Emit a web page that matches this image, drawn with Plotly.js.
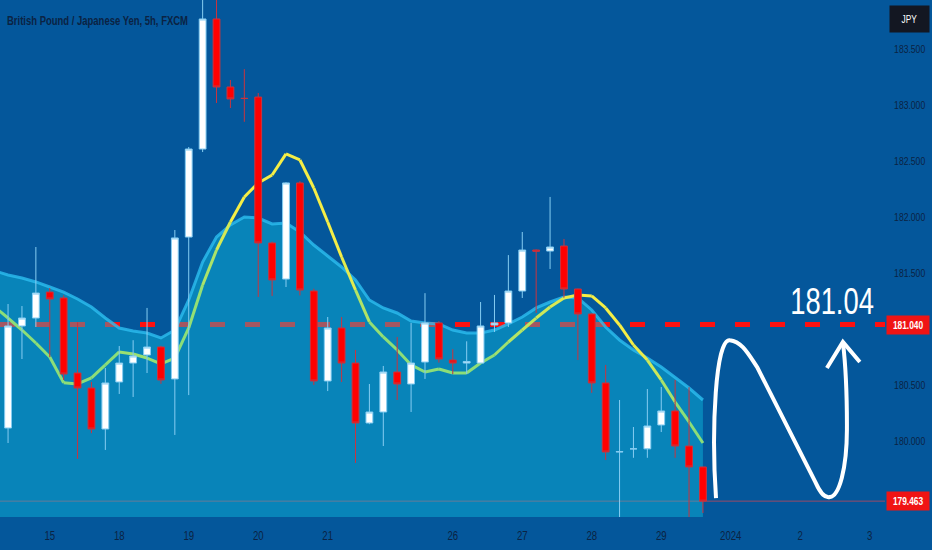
<!DOCTYPE html>
<html>
<head>
<meta charset="utf-8">
<script src="https://cdn.plot.ly/plotly-3.0.1.min.js"></script>
<style>
  html, body {margin: 0; padding: 0; background: #04579b;}
  #chart {width: 932px; height: 550px;}
</style>
</head>
<body>
<div id="chart"></div>
<script>
// 5h candles, GBP/JPY (FXCM)
const opens  = [180.116, 181.027, 181.098, 181.330, 181.277, 180.607, 180.473, 180.107, 180.527, 180.696,
                180.768, 180.839, 180.554, 181.821, 182.607, 183.768, 183.161, 183.060, 183.071, 181.768,
                181.446, 182.304, 181.339, 180.536, 181.009, 180.696, 180.161, 180.259, 180.616, 180.509,
                180.705, 181.054, 180.723, 180.696, 180.696, 181.036, 181.054, 181.339, 181.705, 181.696,
                181.741, 181.357, 181.134, 180.518, 179.902, 179.930, 179.930, 180.143, 180.268, 179.955,
                179.768];
const highs  = [181.223, 181.205, 181.732, 181.366, 181.300, 181.060, 180.527, 180.652, 180.848, 180.900,
                181.188, 180.850, 181.884, 182.625, 183.950, 183.950, 183.223, 183.320, 183.107, 181.780,
                182.310, 182.320, 181.360, 181.107, 181.107, 180.813, 180.509, 180.670, 180.929, 181.054,
                181.320, 181.070, 180.820, 180.890, 181.241, 181.304, 181.660, 181.866, 181.710, 182.179,
                181.804, 181.360, 181.140, 180.679, 180.366, 180.125, 180.464, 180.482, 180.545, 180.480,
                179.770];
const lows   = [179.982, 180.732, 181.018, 180.750, 180.545, 179.840, 180.070, 179.920, 180.420, 180.393,
                180.607, 180.510, 180.054, 180.410, 182.580, 183.018, 182.973, 182.850, 181.286, 181.295,
                181.375, 181.300, 180.500, 180.446, 180.527, 179.804, 180.150, 179.955, 180.366, 180.259,
                180.554, 180.700, 180.598, 180.598, 180.690, 180.973, 181.018, 181.277, 181.143, 181.536,
                181.280, 180.723, 180.430, 179.830, 179.300, 179.850, 179.850, 180.080, 179.850, 179.320,
                179.357];
const closes = [181.027, 181.098, 181.321, 181.268, 180.598, 180.473, 180.107, 180.518, 180.696, 180.759,
                180.839, 180.545, 181.813, 182.607, 183.768, 183.161, 183.054, 183.058, 181.768, 181.438,
                182.304, 181.348, 180.536, 181.009, 180.696, 180.161, 180.259, 180.616, 180.509, 180.696,
                181.054, 180.732, 180.696, 180.710, 181.027, 181.054, 181.339, 181.705, 181.695, 181.732,
                181.357, 181.134, 180.518, 179.902, 179.905, 179.930, 180.134, 180.268, 179.955, 179.768,
                179.463];

// indicators start one bar before the first visible candle
const bandTop = [181.520, 181.482, 181.455, 181.420, 181.375, 181.330, 181.268, 181.196, 181.098, 181.009,
                 180.982, 180.964, 180.920, 180.991, 181.259, 181.598, 181.821, 181.929, 182.000, 181.991,
                 181.938, 181.946, 181.866, 181.750, 181.652, 181.554, 181.438, 181.259, 181.188, 181.143,
                 181.071, 181.054, 181.045, 180.991, 180.964, 180.964, 180.991, 181.045, 181.107, 181.188,
                 181.241, 181.286, 181.277, 181.170, 181.018, 180.902, 180.813, 180.741, 180.661, 180.571,
                 180.473, 180.366];
const maLine  = [181.200, 181.098, 180.991, 180.875, 180.750, 180.520, 180.510, 180.563, 180.679, 180.795,
                 180.777, 180.741, 180.688, 180.741, 181.009, 181.393, 181.705, 181.955, 182.179, 182.304,
                 182.375, 182.563, 182.509, 182.259, 181.955, 181.643, 181.348, 181.063, 180.929, 180.813,
                 180.679, 180.616, 180.643, 180.607, 180.607, 180.696, 180.768, 180.884, 180.991, 181.098,
                 181.196, 181.277, 181.304, 181.295, 181.188, 181.036, 180.857, 180.723, 180.545, 180.348,
                 180.170, 179.982];

const dayTicks  = [3, 8, 13, 18, 23, 32, 37, 42, 47, 52, 57, 62];
const dayLabels = ["15", "18", "19", "20", "21", "26", "27", "28", "29", "2024", "2", "3"];
const priceTicks = [180.0, 180.5, 181.5, 182.0, 182.5, 183.0, 183.5];

const targetLevel = 181.04;
const lastPrice = 179.463;

const FONT = "'Liberation Sans', Arial, sans-serif";
const INK = "#0b2343";
const BG = "#04579b";
const X_RANGE = [-0.58, 63.1];
const Y_RANGE = [179.3214, 183.9375];

const barX = closes.map((_, i) => i);
const indX = bandTop.map((_, k) => k - 1);

const traces = [];

// shaded band (semi transparent, sits over the dashed level line)
traces.push({
    x: indX,
    y: bandTop,
    type: "scatter",
    mode: "lines",
    fill: "tozeroy",
    fillcolor: "rgba(15,205,235,0.38)",
    line: {color: "rgba(45,190,240,0.8)", width: 3},
    hoverinfo: "skip",
    showlegend: false
});

// moving average, yellow above the band, green below it
function mixColor(t) {
    const g = [140, 222, 120], yl = [245, 238, 70];
    const c = g.map((v, k) => Math.round(v + (yl[k] - v) * t));
    return `rgb(${c[0]},${c[1]},${c[2]})`;
}
for (let k = 0; k < maLine.length - 1; k++) {
    const diff = (maLine[k] + maLine[k + 1]) / 2 - (bandTop[k] + bandTop[k + 1]) / 2;
    const t = Math.max(0, Math.min(1, (diff + 0.25) / 0.3));
    traces.push({
        x: [indX[k], indX[k + 1]],
        y: [maLine[k], maLine[k + 1]],
        type: "scatter",
        mode: "lines",
        line: {color: mixColor(t), width: 3},
        hoverinfo: "skip",
        showlegend: false
    });
}

// candles on an overlaid pair of axes so they sit above the band and the MA
traces.push({
    x: barX,
    open: opens,
    high: highs,
    low: lows,
    close: closes,
    type: "candlestick",
    xaxis: "x2",
    yaxis: "y2",
    increasing: {line: {color: "#86cdf2", width: 1}, fillcolor: "#ffffff"},
    decreasing: {line: {color: "#c9343f", width: 1}, fillcolor: "#ff0000"},
    whiskerwidth: 0,
    showlegend: false
});

const hiddenAxis = {showgrid: false, zeroline: false, showline: false, showticklabels: false, ticks: "", fixedrange: true};

const layout = {
    width: 932,
    height: 550,
    margin: {l: 0, r: 47, t: 0, b: 33},
    paper_bgcolor: BG,
    plot_bgcolor: BG,
    showlegend: false,
    dragmode: false,
    title: {
        text: "British Pound / Japanese Yen, 5h, FXCM",
        x: 0.0075, xanchor: "left",
        y: 0.962, yanchor: "middle",
        font: {family: FONT, size: 13, color: INK, weight: 700}
    },
    xaxis: {
        range: X_RANGE,
        tickvals: dayTicks,
        ticktext: dayLabels,
        showgrid: false, zeroline: false, showline: false,
        ticks: "outside", ticklen: 8, tickcolor: "rgba(0,0,0,0)",
        tickfont: {family: FONT, size: 12, color: INK},
        rangeslider: {visible: false},
        fixedrange: true
    },
    yaxis: {
        side: "right",
        range: Y_RANGE,
        tickvals: priceTicks,
        ticktext: priceTicks.map(v => v.toFixed(3)),
        showgrid: false, zeroline: false, showline: false,
        ticks: "outside", ticklen: 6, tickcolor: "rgba(0,0,0,0)",
        tickfont: {family: FONT, size: 10.5, color: INK},
        fixedrange: true
    },
    xaxis2: Object.assign({overlaying: "x", range: X_RANGE, rangeslider: {visible: false}}, hiddenAxis),
    yaxis2: Object.assign({overlaying: "y", side: "right", range: Y_RANGE}, hiddenAxis),
    shapes: [
        {   // target level
            type: "line", layer: "below",
            xref: "paper", x0: 0, x1: 1,
            yref: "y", y0: targetLevel, y1: targetLevel,
            line: {color: "#ff1010", width: 5, dash: "15px,20px"}
        },
        {   // last price line
            type: "line", layer: "below",
            xref: "paper", x0: 0, x1: 1,
            yref: "y", y0: lastPrice, y1: lastPrice,
            line: {color: "rgba(220,70,80,0.7)", width: 1}
        },
        {   // hand drawn move
            type: "path", xref: "x", yref: "y",
            path: "M 50.94,179.49 C 50.6,180.1 50.9,180.92 51.94,180.90 " +
                  "C 52.8,180.89 53.3,180.77 53.9,180.66 L 58.1,179.63 " +
                  "C 58.5,179.52 58.8,179.49 59.14,179.50 " +
                  "C 59.8,179.51 60.35,179.75 60.36,180.1 " +
                  "C 60.37,180.45 60.2,180.75 60.07,180.884",
            line: {color: "#ffffff", width: 4}
        },
        {
            type: "path", xref: "x", yref: "y",
            path: "M 58.92,180.652 L 60.07,180.884 L 61.29,180.705",
            line: {color: "#ffffff", width: 4}
        }
    ],
    annotations: [
        {
            text: "181.04", xref: "x", yref: "y", x: 59.28, y: 181.25,
            showarrow: false,
            font: {family: FONT, size: 36, color: "#ffffff"}
        },
        {
            text: targetLevel.toFixed(3), xref: "paper", yref: "y",
            x: 1, xanchor: "left", xshift: 1, y: targetLevel,
            showarrow: false, bgcolor: "#f01414", borderpad: 2,
            width: 38, height: 14,
            font: {family: FONT, size: 11, color: "#ffffff", weight: 600}
        },
        {
            text: lastPrice.toFixed(3), xref: "paper", yref: "y",
            x: 1, xanchor: "left", xshift: 1, y: lastPrice,
            showarrow: false, bgcolor: "#f01414", borderpad: 2,
            width: 38, height: 14,
            font: {family: FONT, size: 11, color: "#ffffff", weight: 600}
        },
        {
            text: "JPY", xref: "paper", yref: "paper",
            x: 1, xanchor: "left", xshift: 4, y: 0.963, yanchor: "middle",
            showarrow: false, bgcolor: "#131722", borderpad: 7,
            width: 25,
            font: {family: FONT, size: 11, color: "#ffffff"}
        }
    ]
};

// the source uses a narrow face; squeeze glyphs to its widths
function squeeze(nodes, factor) {
    nodes.forEach(n => {
        const w = n.getComputedTextLength();
        if (w > 0) {
            n.setAttribute("textLength", (w * factor).toFixed(1));
            n.setAttribute("lengthAdjust", "spacingAndGlyphs");
        }
    });
}

Plotly.newPlot("chart", traces, layout, {displayModeBar: false, staticPlot: true}).then(gd => {
    const title = gd.querySelector(".gtitle");
    if (title) squeeze([title], 181 / title.getComputedTextLength());
    squeeze(gd.querySelectorAll(".ytick text"), 0.82);
    squeeze(gd.querySelectorAll(".xtick text"), 0.8);
    squeeze(gd.querySelectorAll(".annotation-text"), 0.76);
});
</script>
</body>
</html>
